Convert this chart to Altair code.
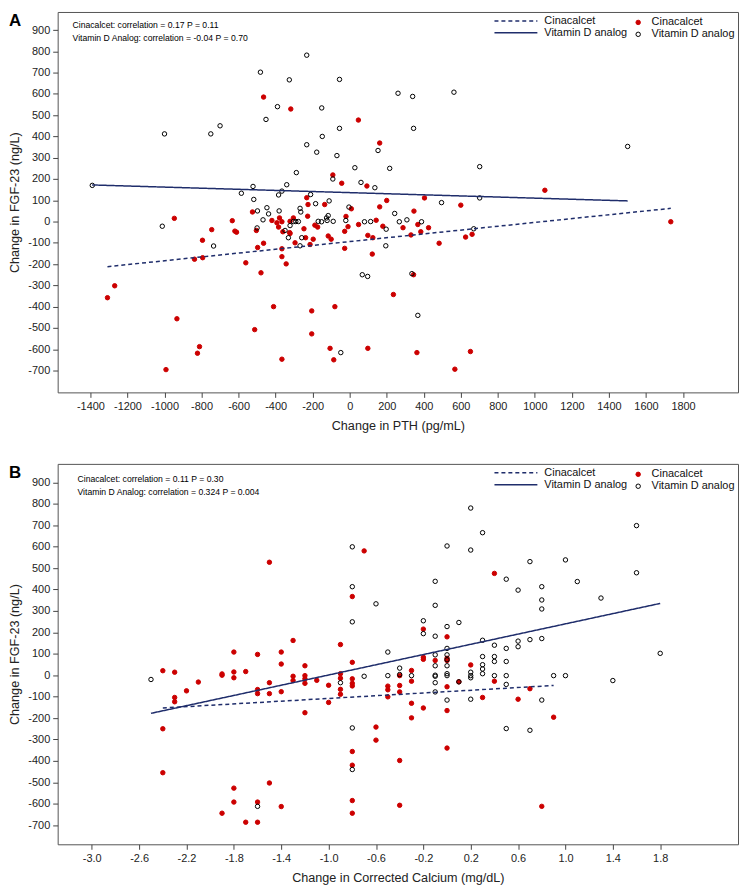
import altair as alt
import pandas as pd

NAVY = "#1f2d6b"
RED = "#cc0000"
FONT = "Liberation Sans"

GROUPS = ["Cinacalcet", "Vitamin D analog"]

# ---- Panel A: change in PTH vs change in FGF-23 ----
A_CINA = [(-1308, -358), (-1269, -302), (-947, 15), (-933, -457), (-992, -696), (-811, -588),
          (-822, -619), (-745, -38), (-795, -88), (-838, -177), (-794, -170), (-634, 4), (-620, -45),
          (-611, -50), (-561, -194), (-525, 45), (-504, -42), (-497, -122), (-465, -102), (-479, -241),
          (-513, -508), (-411, -400), (-366, -647), (-343, -199), (-366, -165), (-366, -128), (-322, -56),
          (-304, 17), (-295, -100), (-247, -34), (-238, -76), (-227, 25), (-214, -108), (-205, -420),
          (-205, -528), (-197, -83), (-188, -17), (-173, -26), (-116, -68), (-100, -83), (-106, -596),
          (-86, -650), (-80, -400), (-27, -46), (-27, -126), (-20, 24), (-9, -24), (9, 60), (48, -14),
          (98, -65), (122, -153), (143, 6), (98, -596), (-420, 5), (-393, -6), (-379, 17), (-366, -1),
          (-384, -26), (-361, -48), (-322, 1), (-324, -52), (-232, 112), (-225, 80), (-135, 80),
          (-465, 585), (-318, 529), (47, 477), (-91, 219), (-43, 180), (93, 167), (162, 369), (162, 69),
          (200, 99), (404, 111), (600, 77), (179, -22), (125, -76), (347, 49), (288, -29), (368, -14),
          (384, -48), (426, -29), (331, -63), (483, -102), (626, -73), (661, -60), (236, -343),
          (345, -250), (363, -616), (652, -611), (568, -694), (1734, -1), (1054, 147)]
A_VITD = [(-1390, 170), (-1000, 412), (-1012, -22), (-750, 412), (-700, 450), (-735, -115), (-585, 133),
          (-482, 702), (-522, 165), (-518, 104), (-452, 480), (-498, 50), (-500, -30), (-447, 65),
          (-438, 36), (-468, 8), (-390, 540), (-381, 50), (-384, 125), (-366, 143), (-340, 173),
          (-326, 666), (-288, 230), (-268, 62), (-264, 45), (-232, 782), (-232, 361), (-211, 127),
          (-178, 326), (-151, 534), (-148, 400), (-184, 84), (-111, 97), (-91, 200), (-69, 310),
          (-55, 668), (-55, 438), (-4, 68), (28, 253), (61, 184), (136, 159), (153, 334), (-349, -42),
          (-331, -76), (-322, -19), (-304, 0), (-291, 0), (-277, 0), (-268, -114), (-259, -76),
          (-170, 1), (-152, -1), (-125, 17), (-116, 28), (-89, 1), (-122, 5), (-21, 5), (80, -1),
          (113, 0), (197, -36), (195, -114), (68, -250), (97, -258), (336, -245), (368, -441),
          (-48, -616), (670, -34), (261, 603), (340, 588), (563, 608), (345, 438), (216, 250),
          (1501, 353), (702, 258), (702, 111), (496, 89), (243, 38), (268, -1), (309, 8), (388, -1)]
A_FIT_CINA = [(-1308, -212), (1734, 62)]
A_FIT_VITD = [(-1391, 172), (1501, 97)]
A_NOTES = ["Cinacalcet: correlation = 0.17 P = 0.11",
           "Vitamin D Analog: correlation = -0.04 P = 0.70"]
A_XTICKS = list(range(-1400, 1801, 200))

# ---- Panel B: change in corrected calcium vs change in FGF-23 ----
B_CINA = [(-2.4, 21), (-2.4, -250), (-2.4, -455), (-2.3, 14), (-2.3, -104), (-2.3, -124), (-2.2, -73),
          (-2.1, -32), (-1.9, 0), (-1.9, 6), (-1.9, -644), (-1.8, 108), (-1.8, 15), (-1.8, -12),
          (-1.8, -527), (-1.8, -592), (-1.7, 17), (-1.7, -686), (-1.6, 97), (-1.6, -67), (-1.6, -86),
          (-1.6, -592), (-1.6, -686), (-1.5, 527), (-1.5, -35), (-1.5, -86), (-1.5, -503), (-1.4, 108),
          (-1.4, 52), (-1.4, -77), (-1.4, -613), (-1.3, 162), (-1.3, -5), (-1.3, -25), (-1.2, 44),
          (-1.2, -2), (-1.2, -17), (-1.2, -38), (-1.2, -175), (-1.1, -24), (-1.0, -47), (-1.0, -127),
          (-0.9, 143), (-0.9, 7), (-0.9, -14), (-0.9, -66), (-0.9, -89), (-0.8, 367), (-0.8, 60),
          (-0.8, -17), (-0.8, -38), (-0.8, -50), (-0.8, -356), (-0.8, -420), (-0.8, -585), (-0.8, -644),
          (-0.7, 580), (-0.6, -242), (-0.6, -303), (-0.5, -51), (-0.5, -68), (-0.5, -101), (-0.4, -2),
          (-0.4, -48), (-0.4, -78), (-0.4, -398), (-0.4, -607), (-0.3, 22), (-0.3, -28), (-0.3, -131),
          (-0.3, -199), (-0.2, 215), (-0.2, 84), (-0.2, 74), (-0.2, -153), (-0.1, 69), (0.0, 179),
          (0.0, 79), (0.0, 69), (0.0, -54), (0.0, -165), (0.0, -340), (0.1, -31), (0.2, 48),
          (0.3, -104), (0.4, 475), (0.4, -28), (0.6, -112), (0.7, -63), (0.8, -612), (0.9, -196)]
B_VITD = [(-2.5, -20), (-1.6, -612), (-0.9, -35), (-0.8, -246), (-0.8, -440), (-0.7, -5), (-0.8, 599),
          (-0.8, 413), (-0.8, 249), (-0.6, 333), (-0.5, 108), (-0.5, -2), (-0.4, 33), (-0.4, 3),
          (-0.3, -2), (-0.2, 254), (-0.2, 194), (-0.1, 438), (-0.1, 326), (-0.1, 182), (-0.1, 95),
          (-0.1, 44), (-0.1, 0), (-0.1, -5), (-0.1, -35), (-0.1, -78), (0.0, 603), (0.0, 227),
          (0.0, 125), (0.0, 95), (0.0, 72), (0.0, 44), (0.0, 7), (0.0, -2), (0.0, -116), (0.1, 246),
          (0.1, -31), (0.2, 780), (0.2, 584), (0.2, 14), (0.2, -2), (0.2, -12), (0.2, -112), (0.3, 665),
          (0.3, 163), (0.3, 87), (0.3, 49), (0.3, 29), (0.3, 7), (0.4, 140), (0.4, 87), (0.4, 64),
          (0.4, -2), (0.5, 448), (0.5, 125), (0.5, 64), (0.5, -2), (0.5, -43), (0.5, -249), (0.6, 397),
          (0.6, 159), (0.6, 133), (0.7, 530), (0.7, 166), (0.7, -257), (0.8, 413), (0.8, 351),
          (0.8, 309), (0.8, 171), (0.8, -116), (0.9, -2), (1.0, 538), (1.0, -2), (1.1, 437),
          (1.3, 360), (1.4, -25), (1.6, 698), (1.6, 478), (1.8, 102)]
B_FIT_CINA = [(-2.4, -153), (0.9, -48)]
B_FIT_VITD = [(-2.5, -178), (1.8, 335)]
B_NOTES = ["Cinacalcet: correlation = 0.11 P = 0.30",
           "Vitamin D Analog: correlation = 0.324 P = 0.004"]
B_XTICKS = [round(-3.0 + 0.4 * i, 1) for i in range(13)]

Y_TICKS = list(range(-700, 901, 100))
FIX_MINUS = "replace(datum.label, '\u2212', '-')"


def text_line(txt, x, y):
    return alt.Chart(pd.DataFrame({"t": [txt]})).mark_text(
        align="left", baseline="middle", font=FONT, fontSize=8.7, color="black",
    ).encode(x=alt.value(x), y=alt.value(y), text="t:N")


def panel(cina, vitd, fit_c, fit_v, xdom, ydom, xticks, xfmt, xtitle, notes, note_xy, letter, w, h):
    pts = pd.DataFrame(
        [{"x": x, "y": y, "group": GROUPS[0]} for x, y in cina]
        + [{"x": x, "y": y, "group": GROUPS[1]} for x, y in vitd]
    )
    fits = pd.DataFrame(
        [{"x": x, "y": y, "fit": GROUPS[0]} for x, y in fit_c]
        + [{"x": x, "y": y, "fit": GROUPS[1]} for x, y in fit_v]
    )
    xs = alt.Scale(domain=xdom, nice=False, zero=False)
    ys = alt.Scale(domain=ydom, nice=False, zero=False)
    pt_legend = alt.Legend(title=None, orient="none", legendX=579, legendY=5,
                           labelOffset=8, symbolSize=20, symbolStrokeWidth=1,
                           rowPadding=0, padding=0)
    points = alt.Chart(pts).mark_point(shape="circle", size=20, strokeWidth=1, opacity=1).encode(
        x=alt.X("x:Q", scale=xs,
                axis=alt.Axis(values=xticks, format=xfmt, labelExpr=FIX_MINUS, title=xtitle,
                              labelOverlap=False, tickCount=30)),
        y=alt.Y("y:Q", scale=ys,
                axis=alt.Axis(values=Y_TICKS, format="d", labelExpr=FIX_MINUS,
                              title="Change in FGF-23 (ng/L)", labelOverlap=False, tickCount=30)),
        fill=alt.Fill("group:N", scale=alt.Scale(domain=GROUPS, range=[RED, "transparent"]),
                      legend=pt_legend),
        stroke=alt.Stroke("group:N", scale=alt.Scale(domain=GROUPS, range=[RED, "black"]),
                          legend=pt_legend),
    )
    lines = alt.Chart(fits).mark_line(color=NAVY, strokeWidth=1.5).encode(
        x=alt.X("x:Q", scale=xs),
        y=alt.Y("y:Q", scale=ys),
        strokeDash=alt.StrokeDash(
            "fit:N",
            scale=alt.Scale(range=[[4, 3], [1, 0]]),
            legend=alt.Legend(title=None, orient="none", legendX=470, legendY=2,
                              symbolType="M-6.2,0L1,0", symbolSize=144,
                              symbolStrokeColor=NAVY, symbolStrokeWidth=1.5,
                              labelOffset=6, rowPadding=0, padding=0),
        ),
    )
    note1 = text_line(notes[0], note_xy[0], note_xy[1])
    note2 = text_line(notes[1], note_xy[0], note_xy[1] + 13)
    tag = alt.Chart(pd.DataFrame({"t": [letter]})).mark_text(
        align="left", baseline="top", font=FONT, fontSize=17, fontWeight="bold",
        color="black",
    ).encode(x=alt.value(-49), y=alt.value(1), text="t:N")
    return alt.layer(points, lines, note1, note2, tag).properties(width=w, height=h)


pa = panel(A_CINA, A_VITD, A_FIT_CINA, A_FIT_VITD, [-1577, 2097], [-803, 985],
           A_XTICKS, "d", "Change in PTH (pg/mL)", A_NOTES, (15, 13), "A", 685, 383)
pb = panel(B_CINA, B_VITD, B_FIT_CINA, B_FIT_VITD, [-3.288, 2.457], [-789, 986],
           B_XTICKS, ".1f", "Change in Corrected Calcium (mg/dL)", B_NOTES, (20, 15), "B", 685, 383)

chart = alt.vconcat(pa, pb, spacing=30).resolve_scale(
    fill="independent", stroke="independent", strokeDash="independent"
).resolve_legend(
    fill="independent", stroke="independent", strokeDash="independent"
).properties(padding=0).configure_view(
    stroke="#555555", strokeWidth=1
).configure_axis(
    labelFont=FONT, titleFont=FONT, labelFontSize=11, titleFontSize=12.7,
    titleFontWeight="normal", labelColor="#222222", titleColor="#222222",
    tickColor="#444444", tickSize=5, domain=False, grid=False, labelPadding=3,
    labelFlush=False, labelOverlap=False,
).configure_axisX(titlePadding=8).configure_axisY(titlePadding=6).configure_legend(
    labelFont=FONT, labelFontSize=11, labelColor="#111111",
)

chart.save("out.html", embed_options={"renderer": "svg", "actions": False})
